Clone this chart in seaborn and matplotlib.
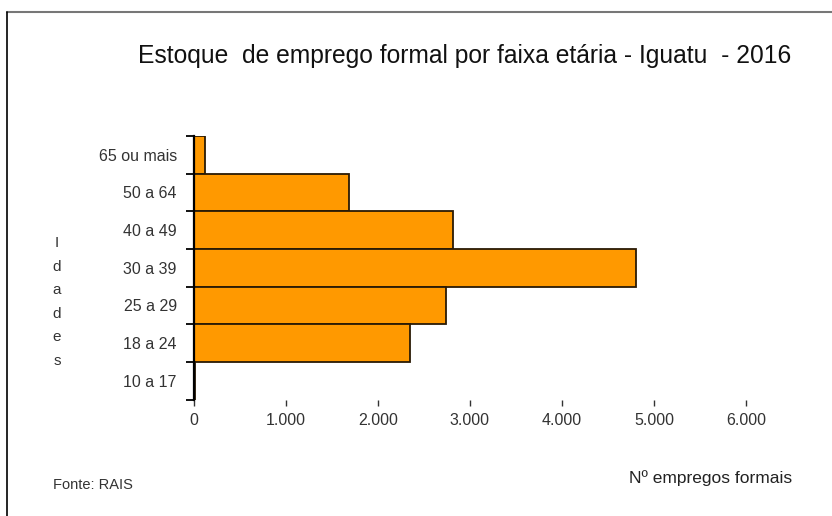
import matplotlib
matplotlib.use("Agg")
import matplotlib.pyplot as plt
from matplotlib.lines import Line2D
from matplotlib.ticker import FuncFormatter, FixedLocator
import seaborn as sns
import pandas as pd

categories = ["65 ou mais", "50 a 64", "40 a 49", "30 a 39", "25 a 29", "18 a 24", "10 a 17"]
values = [120, 1690, 2815, 4800, 2745, 2350, 15]
xticks = [0, 1000, 2000, 3000, 4000, 5000, 6000]

title = "Estoque  de emprego formal por faixa etária - Iguatu  - 2016"
ylabel = "I\nd\na\nd\ne\ns"
xlabel = "Nº empregos formais"
source = "Fonte: RAIS"

sns.set_style("white")
plt.rcParams["font.family"] = ["Liberation Sans", "DejaVu Sans"]

df = pd.DataFrame({"faixa": categories, "n": values})

W, H = 832, 516
fig = plt.figure(figsize=(W / 100, H / 100), dpi=100)
ax_left, ax_right = 193.5, 774.0
ax_top, ax_bot = 136.0, 399.5
ax = fig.add_axes([ax_left / W, 1 - ax_bot / H, (ax_right - ax_left) / W, (ax_bot - ax_top) / H])

sns.barplot(data=df, x="n", y="faixa", orient="h", order=categories, width=1.0,
            color="#FF9900", saturation=1, edgecolor="#2a1a05", linewidth=1.3, ax=ax)

ax.set_xlim(0, 6300)
ax.set_ylim(len(categories) - 0.5, -0.5)

for s in ["top", "right", "bottom"]:
    ax.spines[s].set_visible(False)
ax.spines["left"].set_color("black")
ax.spines["left"].set_linewidth(1.6)

ax.set_xticks(xticks)
ax.xaxis.set_major_formatter(FuncFormatter(lambda v, p: f"{int(v):,}".replace(",", ".")))
ax.tick_params(axis="x", direction="out", length=4, width=1, color="#333333",
               labelsize=11.5, labelcolor="#333333", pad=6, bottom=True)

ax.set_yticks(range(len(categories)))
ax.set_yticklabels(categories)
ax.yaxis.set_minor_locator(FixedLocator([i - 0.5 for i in range(len(categories) + 1)]))
ax.tick_params(axis="y", which="major", length=0, labelsize=11.5, labelcolor="#333333", pad=12)
ax.tick_params(axis="y", which="minor", direction="out", length=6, width=1.3, color="black", left=True)

ax.set_xlabel("")
ax.set_ylabel("")

fig.text(464.5 / W, 1 - 56 / H, title, ha="center", va="center", fontsize=17.7, color="#111111")
fig.text(57 / W, 1 - 302 / H, ylabel, ha="center", va="center", fontsize=11, color="#333333",
         linespacing=1.86)
fig.text(792 / W, 1 - 478 / H, xlabel, ha="right", va="center", fontsize=12.5, color="#222222")
fig.text(53 / W, 1 - 485 / H, source, ha="left", va="center", fontsize=10.5, color="#333333")

fig.add_artist(Line2D([7.5 / W, 1], [1 - 12 / H, 1 - 12 / H], color="#777777", linewidth=1.5,
                      transform=fig.transFigure))
fig.add_artist(Line2D([7.5 / W, 7.5 / W], [1 - 12 / H, 0], color="black", linewidth=1.2,
                      transform=fig.transFigure))

fig.savefig("out.png", dpi=100, facecolor="white")
